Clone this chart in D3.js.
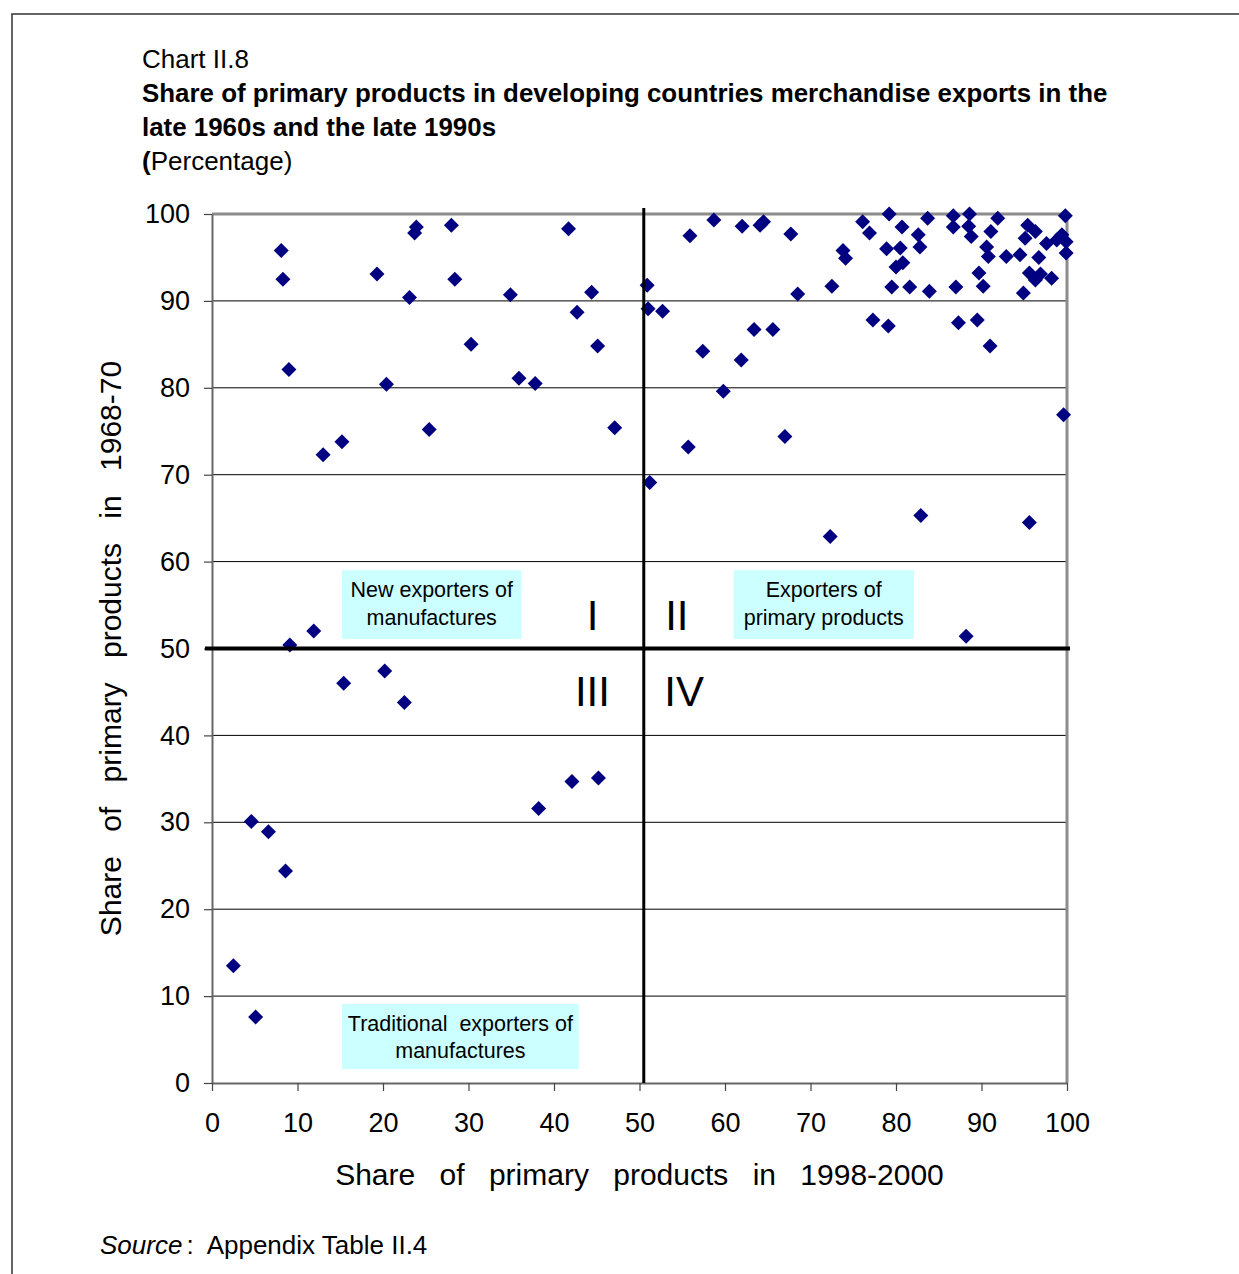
<!DOCTYPE html>
<html>
<head>
<meta charset="utf-8">
<script src="https://cdn.jsdelivr.net/npm/d3@7"></script>
<style>
  html, body { margin: 0; padding: 0; background: #fff; }
  svg { display: block; font-family: "Liberation Sans", Arial, Helvetica, sans-serif; }
</style>
</head>
<body>
<svg id="chart" width="1239" height="1274"></svg>
<script>
// Share of primary products in merchandise exports, 1998-2000 (x) vs 1968-70 (y)
const share1998 = [
  8.1, 8.3, 9.0, 13.0, 15.2, 19.3, 20.4, 23.1, 23.9, 23.7, 25.4, 28.0, 28.4, 30.3,
  34.9, 35.9, 37.8, 41.7, 42.7, 44.4, 45.1, 47.1, 11.9, 9.1, 15.4, 20.2, 22.5, 38.2,
  42.1, 45.2, 4.6, 6.6, 8.6, 2.5, 5.1,
  50.9, 51.0, 52.7, 51.2, 55.9, 58.7, 62.0, 64.1, 64.5, 67.7, 76.1, 76.9, 79.2, 80.7,
  83.7, 86.7, 88.6, 86.7, 88.5, 88.8, 91.9, 91.1, 95.4, 96.3, 95.1, 99.8, 97.6, 99.4,
  98.8, 99.9, 99.9, 82.6, 82.8, 78.9, 80.5, 73.8, 74.1, 80.0, 80.8, 79.5, 81.6, 83.9,
  87.0, 90.6, 90.8, 92.9, 94.5, 96.7, 89.7, 90.2, 95.6, 96.3, 96.9, 98.2, 94.9, 72.5,
  68.5, 77.3, 79.1, 87.3, 89.5, 91.0, 63.4, 65.6, 57.4, 61.9, 59.8, 99.6, 55.7, 67.0,
  72.3, 82.9, 95.6, 88.2
];
const share1968 = [
  95.8, 92.5, 82.1, 72.3, 73.8, 93.1, 80.4, 90.4, 98.5, 97.8, 75.2, 98.7, 92.5, 85.0,
  90.7, 81.1, 80.5, 98.3, 88.7, 91.0, 84.8, 75.4, 52.0, 50.4, 46.0, 47.4, 43.8, 31.6,
  34.7, 35.1, 30.1, 28.9, 24.4, 13.5, 7.6,
  91.8, 89.1, 88.8, 69.1, 97.5, 99.3, 98.6, 98.7, 99.1, 97.7, 99.1, 97.8, 100.0, 98.5,
  99.5, 99.8, 100.0, 98.5, 98.6, 97.4, 99.5, 98.0, 98.7, 98.0, 97.2, 99.8, 96.6, 97.6,
  97.0, 96.8, 95.5, 97.6, 96.2, 96.0, 96.1, 95.8, 94.9, 93.9, 94.4, 91.6, 91.6, 91.1,
  91.6, 96.2, 95.1, 95.1, 95.3, 95.0, 93.2, 91.7, 93.2, 92.4, 93.1, 92.6, 90.9, 91.7,
  90.8, 87.8, 87.1, 87.5, 87.8, 84.8, 86.7, 86.7, 84.2, 83.2, 79.6, 76.9, 73.2, 74.4,
  62.9, 65.3, 64.5, 51.4
];

const xTicks = [0, 10, 20, 30, 40, 50, 60, 70, 80, 90, 100];
const yTicks = [0, 10, 20, 30, 40, 50, 60, 70, 80, 90, 100];

// Quadrant dividers and their numerals
const xDivide = 50.5;
const yDivide = 50;
const numerals = ["I", "II", "III", "IV"];

// Group descriptions shown in shaded boxes
const groupLabels = [
  ["New exporters of", "manufactures"],
  ["Exporters of", "primary products"],
  ["Traditional\u00a0 exporters of", "manufactures"]
];

const svg = d3.select("#chart");
const plot = { left: 212, top: 214, right: 1067, bottom: 1083 };

const x = d3.scaleLinear().domain([0, 100]).range([plot.left, plot.right]);
const y = d3.scaleLinear().domain([0, 100]).range([plot.bottom, plot.top]);

// Outer frame
svg.append("path")
  .attr("d", "M12,1274 L12,14 L1239,14")
  .attr("fill", "none").attr("stroke", "#333").attr("stroke-width", 1.5);

// Heading
svg.append("text").attr("x", 142).attr("y", 68)
  .attr("font-size", 26).attr("fill", "#000").text("Chart II.8");
svg.append("text").attr("x", 142).attr("y", 102)
  .attr("font-size", 25.9).attr("font-weight", "bold").attr("fill", "#000")
  .text("Share of primary products in developing countries merchandise exports in the");
svg.append("text").attr("x", 142).attr("y", 136)
  .attr("font-size", 25.9).attr("font-weight", "bold").attr("fill", "#000")
  .text("late 1960s and the late 1990s");
const unit = svg.append("text").attr("x", 142).attr("y", 170)
  .attr("font-size", 26).attr("fill", "#000");
unit.append("tspan").attr("font-weight", "bold").text("(");
unit.append("tspan").text("Percentage)");

// Horizontal gridlines
svg.append("g").selectAll("line")
  .data(yTicks.filter(d => d > 0 && d < 100))
  .join("line")
  .attr("x1", x(0)).attr("x2", x(100))
  .attr("y1", d => y(d)).attr("y2", d => y(d))
  .attr("stroke", "#000").attr("stroke-width", 1);

// Plot-area border (top and right)
svg.append("path")
  .attr("d", `M${x(0)},${y(100)} L${x(100)},${y(100)} L${x(100)},${y(0)}`)
  .attr("fill", "none").attr("stroke", "#8c8c8c").attr("stroke-width", 3);

// Axes
const yAxis = svg.append("g")
  .attr("transform", `translate(${x(0)},0)`)
  .call(d3.axisLeft(y).tickValues(yTicks).tickSize(8).tickPadding(14).tickSizeOuter(0));
const xAxis = svg.append("g")
  .attr("transform", `translate(0,${y(0)})`)
  .call(d3.axisBottom(x).tickValues(xTicks).tickSize(8).tickPadding(22).tickSizeOuter(0));
[yAxis, xAxis].forEach(g => {
  g.select(".domain").attr("stroke", "#666").attr("stroke-width", 2);
  g.selectAll(".tick line").attr("stroke", "#444").attr("stroke-width", 1.2);
  g.selectAll(".tick text").attr("font-size", 27).attr("fill", "#000")
    .attr("font-family", "'Liberation Sans', Arial, sans-serif");
});

// Axis titles
svg.append("text")
  .attr("x", (x(0) + x(100)) / 2).attr("y", 1185)
  .attr("text-anchor", "middle").attr("font-size", 30)
  .attr("word-spacing", 16).attr("fill", "#000")
  .text("Share of primary products in 1998-2000");
svg.append("text")
  .attr("transform", `translate(121,${(y(0) + y(100)) / 2}) rotate(-90)`)
  .attr("text-anchor", "middle").attr("font-size", 30)
  .attr("word-spacing", 16).attr("fill", "#000")
  .text("Share of primary products in 1968-70");

// Shaded group boxes: [x0, x1, yTop, yBottom] in data units
const boxSpans = [[15.2, 36.2, 59.0, 51.1], [61.0, 82.1, 59.0, 51.1], [15.2, 42.9, 9.1, 1.6]];
const boxes = svg.append("g").selectAll("g")
  .data(groupLabels.map((lines, i) => ({ lines, span: boxSpans[i] })))
  .join("g");
boxes.append("rect")
  .attr("x", d => x(d.span[0])).attr("y", d => y(d.span[2]))
  .attr("width", d => x(d.span[1]) - x(d.span[0]))
  .attr("height", d => y(d.span[3]) - y(d.span[2]))
  .attr("fill", "#ccffff");
boxes.each(function(d) {
  const cx = (x(d.span[0]) + x(d.span[1])) / 2;
  const top = y(d.span[2]);
  d3.select(this).selectAll("text").data(d.lines).join("text")
    .attr("x", cx).attr("y", (t, i) => top + 27 + i * 27.5)
    .attr("text-anchor", "middle").attr("font-size", 21.5).attr("fill", "#000")
    .attr("xml:space", "preserve")
    .text(t => t);
});

// Points
const diamond = "M0,-7.5L7.5,0L0,7.5L-7.5,0Z";
svg.append("g").selectAll("path")
  .data(share1998.map((v, i) => [v, share1968[i]]))
  .join("path")
  .attr("d", diamond)
  .attr("transform", d => `translate(${x(d[0])},${y(d[1])})`)
  .attr("fill", "#000080");

// Quadrant dividers
svg.append("line")
  .attr("x1", x(0) - 7).attr("x2", x(100) + 3)
  .attr("y1", y(yDivide)).attr("y2", y(yDivide))
  .attr("stroke", "#000").attr("stroke-width", 4);
svg.append("line")
  .attr("x1", x(xDivide)).attr("x2", x(xDivide))
  .attr("y1", y(100) - 6).attr("y2", y(0))
  .attr("stroke", "#000").attr("stroke-width", 3);

// Quadrant numerals: [x, y baseline, anchor]
const numeralPos = [[44.5, 52.1, "middle"], [53.0, 52.1, "start"], [44.5, 43.4, "middle"], [52.9, 43.4, "start"]];
svg.append("g").selectAll("text")
  .data(numerals.map((t, i) => ({ t, p: numeralPos[i] })))
  .join("text")
  .attr("x", d => x(d.p[0])).attr("y", d => y(d.p[1]))
  .attr("text-anchor", d => d.p[2])
  .attr("font-size", 42).attr("fill", "#000")
  .text(d => d.t);

// Source note
const src = svg.append("text").attr("x", 100).attr("y", 1254)
  .attr("font-size", 26).attr("fill", "#000").attr("xml:space", "preserve");
src.append("tspan").attr("font-style", "italic").text("Source");
src.append("tspan").attr("dx", 4).text(":  Appendix Table II.4");
</script>
</body>
</html>
